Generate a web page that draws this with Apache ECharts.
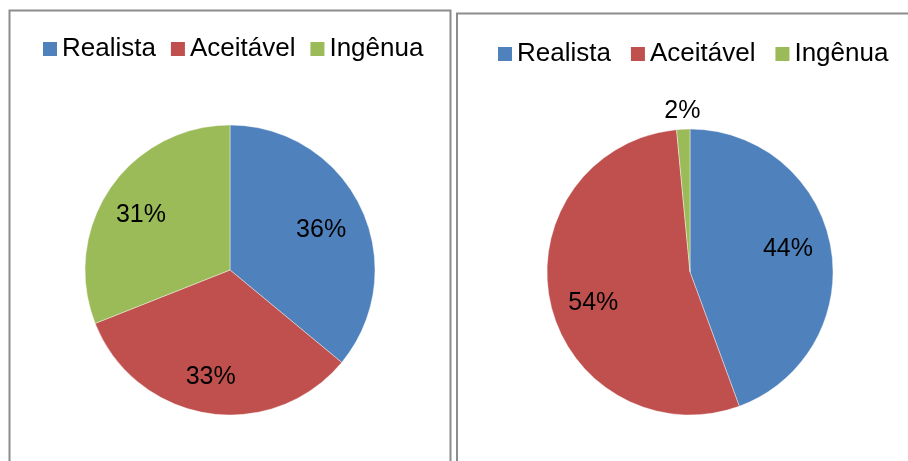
<!DOCTYPE html>
<html>
<head>
<meta charset="utf-8">
<script src="https://cdn.jsdelivr.net/npm/echarts@6/dist/echarts.min.js"></script>
<style>
  html, body { margin: 0; padding: 0; background: #fff; }
  #chart { width: 908px; height: 461px; }
</style>
</head>
<body>
<div id="chart"></div>
<script>
const categories = ['Realista', 'Aceitável', 'Ingênua'];
const leftValues = [36, 33, 31];
const rightValues = [44.4, 54.1, 1.5];
const colors = ['#4F81BD', '#C0504D', '#9BBB59'];

const font = '"Liberation Sans", Arial, sans-serif';
let myChart = echarts.init(document.getElementById('chart'));

function toData (values, labelOn) {
    return values.map(function (v, i) {
        return {
            name: categories[i],
            value: v,
            label: { show: labelOn ? labelOn(i) : false }
        };
    });
}

// main pie + transparent rings used only to place the labels
function pieSeries (values, center, labelCenter, r, labelR, labelTurn, outside) {
    const labelStyle = {
        position: 'inside',
        formatter: function (p) { return Math.round(p.value) + '%'; },
        fontSize: 25,
        fontFamily: font,
        color: '#000'
    };
    const ring = {
        type: 'pie',
        silent: true,
        startAngle: 90,
        clockwise: true,
        center: center,
        avoidLabelOverlap: false,
        itemStyle: { color: 'transparent' },
        labelLine: { show: false },
        label: labelStyle,
        z: 3
    };
    let list = [{
        type: 'pie',
        silent: true,
        startAngle: 90,
        clockwise: true,
        center: center,
        radius: [0, r],
        label: { show: false },
        labelLine: { show: false },
        itemStyle: { borderColor: 'rgba(255,255,255,0.5)', borderWidth: 0.8 },
        data: toData(values)
    }];
    list.push(Object.assign({}, ring, {
        startAngle: 90 + labelTurn,
        center: labelCenter,
        radius: [2 * labelR - r, r],
        data: toData(values, function (i) { return outside.indexOf(i) < 0; })
    }));
    if (outside.length) {
        list.push(Object.assign({}, ring, {
            radius: [r + 6, r + 25],
            data: toData(values, function (i) { return outside.indexOf(i) >= 0; })
        }));
    }
    return list;
}

const legendBase = {
    orient: 'horizontal',
    icon: 'rect',
    padding: 0,
    itemWidth: 14,
    itemHeight: 14,
    selectedMode: false,
    itemStyle: { borderWidth: 0 },
    textStyle: { fontSize: 26, fontFamily: font, color: '#000', lineHeight: 26 },
    data: categories
};

myChart.setOption({
    animation: false,
    backgroundColor: '#fff',
    color: colors,
    graphic: [
        { type: 'rect', shape: { x: 9.5, y: 10.5, width: 441, height: 470 },
          style: { fill: 'none', stroke: '#8c8c8c', lineWidth: 2 }, z: -1 },
        { type: 'rect', shape: { x: 457, y: 13.5, width: 470, height: 470 },
          style: { fill: 'none', stroke: '#8c8c8c', lineWidth: 2 }, z: -1 }
    ],
    legend: [
        Object.assign({}, legendBase, { left: 43, top: 36, itemGap: 15 }),
        Object.assign({}, legendBase, { left: 498, top: 41, itemGap: 20 })
    ],
    series: [].concat(
        pieSeries(leftValues, [230, 270], [227, 274], 145, 101, 0, []),
        pieSeries(rightValues, [690, 272], [690, 274], 143, 98, 4, [2])
    )
});
</script>
</body>
</html>
